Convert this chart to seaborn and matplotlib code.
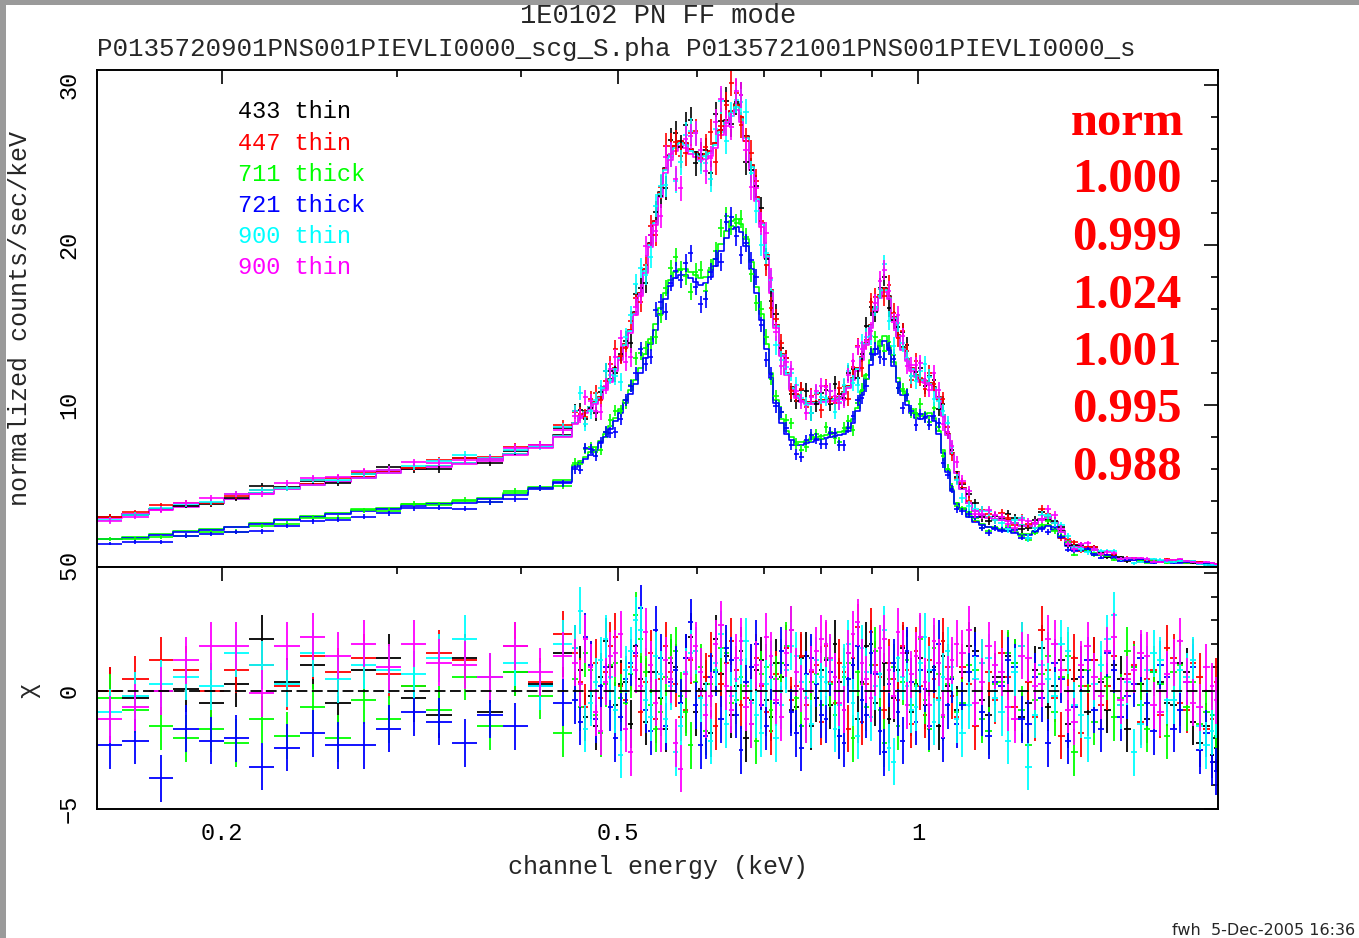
import numpy as np
import pandas as pd
import matplotlib
matplotlib.use("Agg")
import matplotlib.pyplot as plt
import seaborn as sns
from matplotlib.ticker import FixedLocator, NullFormatter, MultipleLocator
from matplotlib.patches import Rectangle

# ---------------- data ----------------
series_names = ["433 thin", "447 thin", "711 thick", "721 thick", "900 thin", "900 thin"]
series_colors = ["#000000", "#ff0000", "#00ff00", "#0000ff", "#00ffff", "#ff00ff"]
series_filter = ["thin", "thin", "thick", "thick", "thin", "thin"]
norm_values = ["1.000", "0.999", "1.024", "1.001", "0.995", "0.988"]

energy_edges = [
    0.150, 0.159, 0.169, 0.179, 0.190, 0.201, 0.213, 0.226, 0.240, 0.254,
    0.270, 0.286, 0.303, 0.321, 0.341, 0.361, 0.383, 0.406, 0.430,
    0.450, 0.4555, 0.461, 0.4665, 0.472, 0.4775, 0.483, 0.4885, 0.494, 0.500,
    0.506, 0.512, 0.518, 0.524, 0.530, 0.536, 0.542, 0.5485, 0.555, 0.5615,
    0.568, 0.5745, 0.581, 0.588, 0.595, 0.602, 0.609, 0.616, 0.623, 0.6305,
    0.638, 0.6455, 0.653, 0.6605, 0.668, 0.676, 0.684, 0.692, 0.700, 0.708,
    0.716, 0.7245, 0.733, 0.7415, 0.750, 0.759, 0.768, 0.777, 0.786, 0.795,
    0.804,
    0.8125, 0.821, 0.8295, 0.838, 0.847, 0.856, 0.865, 0.874, 0.883, 0.892,
    0.9015, 0.911, 0.9205, 0.930, 0.940, 0.950, 0.960, 0.970, 0.980, 0.990,
    1.0005, 1.011, 1.0215, 1.032, 1.043, 1.054, 1.065, 1.076, 1.0875, 1.099,
    1.116, 1.133, 1.1505, 1.168, 1.186, 1.204, 1.2225, 1.241, 1.2605, 1.280,
    1.300, 1.320, 1.3405, 1.361, 1.382, 1.403, 1.4245, 1.446, 1.4685, 1.491,
    1.514, 1.537, 1.561, 1.585, 1.6095, 1.634, 1.6595, 1.685, 1.711, 1.737,
    1.764, 1.791, 1.8185, 1.846, 1.8745, 1.903, 1.9325, 1.962, 1.981, 2.000]

model_thin = [
    3.0, 3.2, 3.5, 3.7, 3.9, 4.15, 4.5, 4.8, 5.05, 5.25, 5.5, 5.8, 6.05, 6.2, 6.4, 6.6, 6.95, 7.4, 8.1,
    8.9, 9.3, 9.6, 9.9, 10.2, 10.5, 11.1, 11.6, 12.3, 13.0,
    13.8, 14.7, 15.8, 17.0, 18.5, 20.1, 21.5, 23.3, 24.8, 25.6,
    26.2, 26.5, 26.4, 26.0, 25.8, 25.6, 25.7, 25.9, 26.4, 27.2,
    27.8, 28.4, 28.8, 28.0, 26.8, 25.0, 23.0, 21.4, 19.4, 17.2,
    15.0, 13.2, 12.0, 11.1, 10.6, 10.3, 10.2, 10.2, 10.2, 10.3,
    10.3, 10.35, 10.4, 10.5, 10.8, 11.2, 11.7, 12.3, 13.0, 13.9,
    15.0, 16.1, 16.9, 17.3, 16.8, 15.5, 14.4, 13.6, 12.9, 12.3,
    11.9, 11.6, 11.5, 11.4, 11.1, 10.5, 9.4, 8.2, 7.0, 5.8,
    4.8, 3.9, 3.4, 3.1, 3.0, 2.9, 2.85, 2.8, 2.65, 2.5,
    2.45, 2.6, 2.85, 3.0, 2.7, 2.1, 1.5, 1.2, 1.15, 1.1,
    0.95, 0.75, 0.62, 0.52, 0.44, 0.38, 0.34, 0.31, 0.29, 0.27,
    0.25, 0.24, 0.23, 0.22, 0.21, 0.2, 0.18, 0.15, 0.11, 0.07]

model_thick = [
    1.62, 1.7, 1.9, 2.05, 2.2, 2.35, 2.55, 2.8, 3.0, 3.2, 3.4, 3.5, 3.7, 3.8, 3.9, 4.1, 4.4, 4.75, 5.2,
    6.1, 6.35, 6.6, 6.9, 7.2, 7.6, 8.0, 8.5, 9.0, 9.5,
    10.1, 10.7, 11.3, 12.0, 12.9, 13.8, 14.7, 15.7, 16.6, 17.4,
    17.9, 18.1, 18.1, 17.9, 17.7, 17.5, 17.6, 18.0, 18.7, 19.6,
    20.4, 21.0, 21.1, 20.8, 19.9, 18.5, 17.0, 15.3, 13.5, 11.7,
    10.1, 8.9, 8.2, 7.8, 7.5, 7.5, 7.6, 7.7, 7.8, 7.9,
    7.95, 8.0, 8.05, 8.1, 8.2, 8.4, 8.9, 9.6, 10.6, 11.6,
    12.5, 13.2, 13.7, 14.0, 13.4, 12.4, 11.4, 10.6, 10.0, 9.5,
    9.2, 9.1, 9.2, 9.3, 9.0, 8.2, 7.0, 5.8, 4.6, 3.8,
    3.5, 3.0, 2.7, 2.5, 2.35, 2.25, 2.15, 2.1, 2.0, 1.9,
    1.9, 2.05, 2.3, 2.45, 2.2, 1.7, 1.2, 0.95, 0.9, 0.85,
    0.72, 0.6, 0.5, 0.42, 0.36, 0.32, 0.29, 0.27, 0.25, 0.23,
    0.22, 0.21, 0.2, 0.19, 0.18, 0.17, 0.15, 0.13, 0.09, 0.06]

err_thin = [
    0.18, 0.18, 0.18, 0.18, 0.19, 0.19, 0.2, 0.2, 0.2, 0.21, 0.21, 0.22, 0.22, 0.22, 0.23, 0.23, 0.24, 0.25, 0.28,
    0.42, 0.44, 0.45, 0.46, 0.47, 0.48, 0.5, 0.51, 0.53, 0.55,
    0.57, 0.59, 0.61, 0.63, 0.66, 0.69, 0.71, 0.74, 0.76, 0.78,
    0.79, 0.8, 0.8, 0.79, 0.78, 0.78, 0.78, 0.79, 0.8, 0.81,
    0.82, 0.83, 0.84, 0.82, 0.8, 0.78, 0.74, 0.71, 0.68, 0.64,
    0.6, 0.56, 0.52, 0.5, 0.48, 0.47, 0.47, 0.47, 0.47, 0.47,
    0.47, 0.47, 0.47, 0.47, 0.48, 0.49, 0.5, 0.51, 0.53, 0.55,
    0.57, 0.59, 0.6, 0.61, 0.6, 0.58, 0.56, 0.54, 0.52, 0.51,
    0.5, 0.5, 0.5, 0.49, 0.49, 0.48, 0.46, 0.43, 0.4, 0.36,
    0.33, 0.3, 0.28, 0.27, 0.26, 0.25, 0.25, 0.25, 0.24, 0.23,
    0.23, 0.24, 0.25, 0.25, 0.24, 0.21, 0.18, 0.16, 0.15, 0.15,
    0.14, 0.13, 0.12, 0.11, 0.1, 0.095, 0.09, 0.085, 0.08, 0.078,
    0.075, 0.072, 0.07, 0.068, 0.066, 0.064, 0.06, 0.055, 0.05, 0.04]

err_thick = [
    0.12, 0.12, 0.13, 0.13, 0.13, 0.14, 0.14, 0.15, 0.15, 0.16, 0.16, 0.16, 0.17, 0.17, 0.17, 0.18, 0.18, 0.19, 0.2,
    0.29, 0.3, 0.31, 0.32, 0.32, 0.33, 0.34, 0.35, 0.36, 0.37,
    0.39, 0.4, 0.42, 0.43, 0.45, 0.47, 0.48, 0.5, 0.52, 0.53,
    0.54, 0.55, 0.55, 0.54, 0.53, 0.53, 0.53, 0.54, 0.55, 0.56,
    0.57, 0.58, 0.58, 0.57, 0.55, 0.53, 0.5, 0.48, 0.45, 0.42,
    0.39, 0.37, 0.35, 0.34, 0.33, 0.32, 0.32, 0.32, 0.32, 0.33,
    0.33, 0.33, 0.33, 0.33, 0.33, 0.34, 0.35, 0.36, 0.38, 0.4,
    0.41, 0.42, 0.43, 0.44, 0.43, 0.41, 0.39, 0.37, 0.36, 0.35,
    0.35, 0.35, 0.35, 0.35, 0.34, 0.33, 0.31, 0.28, 0.26, 0.23,
    0.22, 0.2, 0.19, 0.18, 0.18, 0.17, 0.17, 0.17, 0.16, 0.16,
    0.16, 0.17, 0.18, 0.18, 0.17, 0.15, 0.13, 0.12, 0.11, 0.11,
    0.1, 0.09, 0.085, 0.08, 0.075, 0.07, 0.066, 0.063, 0.06, 0.058,
    0.056, 0.054, 0.052, 0.05, 0.048, 0.046, 0.044, 0.04, 0.035, 0.03]

chi_433 = [
    0.0, -0.3, 0.0, 0.1, -0.5, 0.3, 2.2, 0.4, 1.1, -0.5, 0.9, 1.4, -0.3, -1.0, 1.4, -0.9, 0.8, 0.3, 1.6,
    1.8, 0.9, -1.1, -0.2, -1.5, 0.6, 2.1, 1.0, -0.6, 0.3,
    0.4, -1.4, 1.9, 0.5, -1.3, 0.8, 0.8, -0.3, -1.6, 1.2,
    1.0, -0.5, 1.4, 2.3, -0.9, 0.1, 0.3, -1.8, 2.2, 0.7,
    1.5, -1.0, 0.2, 1.7, -2.0, -0.4, 0.9, 1.3, -0.4, -1.1,
    1.2, 0.6, 1.8, -0.8, -0.7, 1.4, 1.5, -1.5, -0.3, 0.9,
    1.3, -0.6, 2.0, 0.4, -0.8, 1.6, 1.1, -1.2, 0.4, 1.9,
    2.0, -0.5, 0.7, 1.2, -1.2, -0.3, 0.9, 1.8, 1.6, -0.9,
    0.3, 1.4, -0.6, 0.8, 1.0, -1.5, 1.5, 0.2, 0.5, -0.8,
    0.8, 1.9, 1.7, -0.4, -1.0, 0.6, 0.6, 1.5, 1.2, -1.1,
    -0.5, 0.9, 1.8, -0.7, 0.2, 1.3, -1.4, 0.5, 0.9, -0.9,
    1.3, 0.4, -0.8, 1.1, 0.5, -1.6, 1.0, 0.3, -1.2, 0.8,
    0.4, -0.5, -0.6, 1.2, 0.8, -1.3, -2.2, -1.5, -2.7, -2.4]
chi_447 = [
    0.0, 0.5, 1.3, 0.9, 0.0, 0.9, 1.1, 0.2, 1.5, 0.8, 1.4, 0.7, 0.2, 1.6, 1.3, 0.6, 1.9, 0.4, 2.4,
    1.6, 0.4, -0.7, 1.1, 1.2, -0.3, 0.8, 1.9, 2.3, 0.2,
    -0.4, 1.0, 1.5, -0.9, 0.4, 1.6, -1.2, 0.5, 1.9, 0.8,
    0.3, -1.1, -0.8, 1.3, 1.7, -0.2, 0.6, 1.5, -1.5, 0.3,
    1.2, 2.1, 0.9, -0.6, -0.3, 1.0, 1.4, 0.2, -0.9, -1.7,
    0.7, 1.2, 1.8, -0.4, 0.2, 1.5, -0.6, 0.8, 1.1, -1.3,
    1.9, 0.4, -0.5, 1.2, 0.8, -1.6, 1.4, 2.7, -1.3, 0.3,
    2.5, 1.1, 0.6, -0.8, 1.2, 0.5, -0.4, 1.9, 0.9, -1.4,
    1.7, 0.2, -1.0, 1.3, 0.5, -0.3, 2.1, 1.0, -0.2, -1.1,
    1.0, 0.3, -1.5, 1.2, 0.8, -0.4, 1.6, 0.6, -0.7, 1.9,
    0.4, -1.1, 2.6, 0.9, -0.3, -1.9, 0.9, 1.4, -1.8, 0.2,
    1.3, -0.6, 0.2, 1.5, -0.6, 0.7, 1.1, -1.3, 0.5, 0.9,
    -1.0, 1.8, 1.4, -0.5, -0.8, 1.2, 0.6, -1.6, -1.2, 0.4]
chi_711 = [
    -0.3, -0.8, -1.5, -2.0, -1.6, -2.2, -1.2, -1.9, -0.7, -2.0, -0.4, -1.2, 0.2, -0.8, 0.6, -1.5, 0.8, -0.2, -1.8,
    0.5, -0.7, 1.6, 0.9, -1.0, -1.8, 0.3, 1.1, 1.2, -0.3,
    -0.5, 0.7, 3.2, 2.2, 0.8, -0.6, -1.6, -0.9, 0.6, 1.4,
    1.7, -0.2, -0.9, -2.3, 0.4, 1.0, -1.7, 0.3, 0.9, 1.8,
    1.6, -0.5, -0.4, 0.6, 0.2, -1.4, -2.1, 0.7, 1.0, -0.8,
    0.5, 1.2, 1.9, 2.6, -0.3, -1.5, -1.2, 0.4, 0.7, -0.6,
    1.4, 0.3, -1.0, -1.9, 0.6, 1.2, -2.0, 0.8, 0.3, -0.7,
    1.1, 1.7, -0.8, -2.2, 0.5, 1.0, -1.5, 0.4, 1.3, -0.6,
    0.2, 2.2, -0.4, -1.6, 1.8, 0.7, -1.1, 0.3, 0.6, -0.9,
    -0.5, 1.1, 0.9, -1.2, -1.7, 0.3, 0.4, 1.6, 1.2, -0.8,
    -2.3, -0.4, 0.7, 1.5, -0.9, 0.6, 1.5, -2.6, 0.2, 0.9,
    -1.3, 0.5, 0.6, -1.1, -0.3, 1.7, 1.0, -0.6, -1.6, 0.8,
    0.3, -1.9, 0.8, 1.1, -0.7, 0.4, -1.4, -0.9, -1.0, -1.9]
chi_721 = [
    -2.3, -2.1, -3.7, -1.6, -2.1, -2.0, -3.2, -2.4, -1.8, -2.3, -2.3, -1.6, -0.9, -1.3, -2.2, -1.0, -1.5, 0.2, -0.5,
    -0.4, -1.3, 2.3, 1.1, -1.2, 0.2, 1.0, -0.7, -2.0, -1.1,
    0.5, 1.2, 1.6, 3.5, -0.8, -1.7, 2.6, 1.4, -1.5, 0.4,
    0.9, -0.5, 1.4, 2.9, -0.6, -2.3, -1.9, 0.6, 0.8, -1.2,
    1.8, 1.3, -1.0, -2.5, 0.4, 1.0, 2.0, -0.6, -1.5, 0.6,
    -0.5, 1.7, 1.1, -0.9, -1.8, -2.4, 0.7, 1.4, 0.3, -1.0,
    -1.2, 0.8, 0.6, -1.9, -2.2, 0.5, 1.1, 1.9, -0.4, -1.0,
    1.6, 0.7, -1.7, -2.6, 0.3, 1.2, -0.9, -2.1, 1.7, 0.4,
    -1.3, 0.9, 0.1, -1.5, 0.9, 2.0, -2.0, -0.6, 0.5, -1.4,
    -0.6, 0.8, 1.5, -0.9, -1.9, 0.4, 0.2, 1.3, 1.0, -1.2,
    -1.4, 0.6, -0.3, -2.2, 1.2, 0.5, -2.1, -0.7, 0.6, 1.3,
    -0.8, -1.6, 1.6, 0.9, -1.1, -0.2, 0.3, 1.4, -0.5, -1.7,
    1.1, 0.6, -1.6, -0.8, 0.4, 1.0, -2.5, -1.8, -3.0, -3.4]
chi_900a = [
    -0.9, -0.2, 0.3, 0.6, 0.2, 1.6, 1.1, 0.3, 1.6, 0.5, 1.1, 0.9, 0.7, 1.4, 2.2, 0.6, 1.2, 0.2, 2.0,
    1.8, 3.4, -1.6, -0.5, 0.4, 1.3, 2.2, 0.6, -0.8, -2.7,
    0.9, 1.7, 3.0, 2.6, -0.4, -1.1, 1.5, 0.7, -1.2, 0.2,
    -2.6, -1.5, 0.8, 1.6, 1.7, -0.3, -0.6, -2.1, 1.2, 2.4,
    -1.4, -0.2, 0.5, 1.3, 2.1, -0.5, -1.0, -1.8, 0.3, 1.1,
    -2.0, -0.6, 0.9, 1.9, 1.5, 0.4, -0.3, -1.4, 1.3, 0.6,
    0.4, 1.3, -1.6, -0.6, 1.0, 2.0, -0.5, -1.9, 1.8, 0.8,
    -1.1, 0.2, 0.7, 2.6, -2.4, -3.0, 1.4, 0.6, 0.2, -0.8,
    -0.7, 1.2, 2.3, 0.9, -1.3, -0.4, 0.6, 1.7, 1.0, -1.2,
    -1.8, -0.6, 0.5, 1.2, 1.4, -0.3, -0.9, -2.1, 0.8, 1.9,
    -3.2, -1.0, 1.1, 0.5, -0.2, 2.0, 1.7, -0.6, -1.0, -2.0,
    0.3, 1.1, 2.2, 3.2, -0.6, 0.4, -2.6, -1.4, 0.9, 1.6,
    1.3, -0.4, -0.4, 0.9, 0.6, 1.3, -1.5, -2.3, -1.7, -1.0]
chi_900b = [
    -1.2, -0.7, 0.0, 1.3, 1.9, 1.9, -0.1, 1.9, 2.3, 1.5, 2.0, 1.0, 2.0, 1.2, 1.1, 0.6, 1.9, 0.8, 1.5,
    1.2, 0.3, 2.2, 1.0, -0.9, -1.7, 0.4, 1.5, 1.6, 2.4,
    -1.6, -2.6, 0.9, 0.2, 2.5, 1.1, -0.5, -1.6, 1.3, 0.5,
    -2.2, -3.3, 0.7, 1.4, 1.9, 0.8, -1.0, -0.2, 2.0, 2.8,
    0.2, -0.8, 1.4, 2.1, -0.7, -1.4, 1.1, 0.3, 2.3, 1.5,
    -0.4, -1.1, 1.6, 2.6, 0.8, 0.1, -1.2, 0.9, 1.7, 2.2,
    2.0, 1.4, 0.6, -0.5, -0.8, 1.6, 2.4, 2.9, 1.2, 0.5,
    -0.3, 0.8, 1.8, 2.2, 0.9, -0.2, 2.5, 1.6, -0.6, 0.7,
    1.5, 2.3, 0.4, -0.6, 2.1, 1.2, -1.0, 0.5, 1.3, 2.0,
    1.6, 2.6, -0.5, 0.4, 1.9, 1.1, 0.8, -0.7, -1.2, 1.5,
    1.4, 0.2, 0.3, 2.2, 2.0, 0.9, -0.8, -1.3, 1.1, 1.9,
    0.6, -0.2, 1.7, 2.3, -0.4, 0.5, 0.9, 1.6, 1.5, -0.6,
    -0.9, 0.7, 1.2, 2.1, 0.4, -0.5, -0.7, 1.0, 0.2, -0.4]
chi_values = [chi_433, chi_447, chi_711, chi_721, chi_900a, chi_900b]

title_text = "1E0102 PN FF mode"
subtitle_text = "P0135720901PNS001PIEVLI0000_scg_S.pha P0135721001PNS001PIEVLI0000_s"
xlabel_text = "channel energy (keV)"
ylabel_text = "normalized counts/sec/keV"
rlabel_text = "\u03c7"
footer_text = "fwh  5-Dec-2005 16:36"

nbins = len(energy_edges) - 1
for arr in [model_thin, model_thick, err_thin, err_thick] + chi_values:
    if len(arr) != nbins:
        raise ValueError(f"length {len(arr)} != {nbins}")

# ---------------- style ----------------
sns.set_style("white")
MONO = ["Liberation Mono", "DejaVu Sans Mono", "DejaVu Sans"]
plt.rcParams["font.family"] = MONO
plt.rcParams["axes.linewidth"] = 1.4
plt.rcParams["axes.edgecolor"] = "black"

W, H = 1359, 938
fig = plt.figure(figsize=(W / 100, H / 100), dpi=100)
fig.patch.set_facecolor("white")

def fx(px):
    return px / W

def fy(py):
    return 1 - py / H

ax = fig.add_axes([fx(97), fy(567), fx(1218) - fx(97), fy(70) - fy(567)])
axr = fig.add_axes([fx(97), fy(809), fx(1218) - fx(97), fy(567) - fy(809)])

edges = np.array(energy_edges)
lo, hi = edges[:-1], edges[1:]
ctr = np.sqrt(lo * hi)

keys = [f"{i}:{n}" for i, n in enumerate(series_names)]
palette = dict(zip(keys, series_colors))

rows = []
models = {}
for k, filt, nv in zip(keys, series_filter, norm_values):
    base = np.array(model_thin if filt == "thin" else model_thick)
    m = float(nv) * base
    models[k] = m
    for e, v in zip(edges, np.append(m, m[-1])):
        rows.append({"E": e, "flux": v, "spec": k})
df = pd.DataFrame(rows)

ax.set_xscale("log")
axr.set_xscale("log")

sns.lineplot(data=df, x="E", y="flux", hue="spec", hue_order=keys, palette=palette,
             estimator=None, drawstyle="steps-post", linewidth=1.2, legend=False, ax=ax)

for k, filt, c, chi in zip(keys, series_filter, series_colors, chi_values):
    err = np.array(err_thin if filt == "thin" else err_thick)
    chi = np.array(chi)
    data = models[k] + chi * err
    ax.errorbar(ctr, data, xerr=[ctr - lo, hi - ctr], yerr=err, fmt="none",
                ecolor=c, elinewidth=1.2, capsize=0)
    axr.errorbar(ctr, chi, xerr=[ctr - lo, hi - ctr], yerr=1.0, fmt="none",
                 ecolor=c, elinewidth=1.3, capsize=0)

axr.axhline(0, color="black", lw=1.3, ls=(0, (6, 2.5)), zorder=10)

for a in (ax, axr):
    a.set_xlim(0.15, 2.0)
    a.xaxis.set_major_locator(FixedLocator([0.2, 0.5, 1.0]))
    a.xaxis.set_minor_locator(FixedLocator([0.3, 0.4, 0.6, 0.7, 0.8, 0.9, 2.0]))
    a.xaxis.set_minor_formatter(NullFormatter())
    a.tick_params(which="both", direction="in", top=True, right=True, width=1.2,
                  colors="black", labelsize=17)
    a.tick_params(which="major", length=10)
    a.tick_params(which="minor", length=5)
    a.set_xlabel("")
    a.set_ylabel("")
    for s in a.spines.values():
        s.set_linewidth(1.4)

ax.tick_params(axis="x", labelbottom=False)
axr.set_xticks([0.2, 0.5, 1.0], ["0.2", "0.5", "1"])
axr.tick_params(axis="x", pad=9)

ax.set_ylim(-0.12, 30.94)
ax.set_yticks([0, 10, 20, 30], ["0", "10", "20", "30"])
ax.yaxis.set_minor_locator(MultipleLocator(2))
axr.set_ylim(-5.0, 5.25)
axr.set_yticks([-5, 0, 5], ["\u22125", "0", "5"])
axr.yaxis.set_minor_locator(MultipleLocator(1))
for a in (ax, axr):
    a.tick_params(axis="y", pad=12)
    plt.setp(a.get_yticklabels(), rotation=90, va="center", ha="right")
# the main-panel "0" sits just above the residual-panel "5"
ax.get_yticklabels()[0].set_va("bottom")

# ---------------- texts ----------------
fig.text(fx(658), fy(16), title_text, ha="center", va="center", fontsize=19.5, family=MONO)
fig.text(fx(97), fy(49), subtitle_text, ha="left", va="center", fontsize=18.6, family=MONO)
fig.text(fx(658), fy(867), xlabel_text, ha="center", va="center", fontsize=18, family=MONO)
fig.text(fx(20), fy(318), ylabel_text, ha="center", va="center", rotation=90, fontsize=18, family=MONO)
fig.text(fx(28), fy(690), rlabel_text, ha="center", va="center", rotation=90, fontsize=18, family=MONO)
fig.text(fx(1355), fy(930), footer_text, ha="right", va="center", fontsize=11.5, family=["DejaVu Sans"])

for i, (n, c) in enumerate(zip(series_names, series_colors)):
    fig.text(fx(238), fy(112 + 31.2 * i), n, color=c, ha="left", va="center", fontsize=17, family=MONO)

fig.text(fx(1127), fy(135), "norm", color="#ff0000", ha="center", va="baseline",
         fontsize=35, fontweight="bold", family=["Liberation Serif", "DejaVu Serif"])
for i, nv in enumerate(norm_values):
    fig.text(fx(1127), fy(192.5 + 57.5 * i), nv, color="#ff0000", ha="center", va="baseline",
             fontsize=35, fontweight="bold", family=["Liberation Serif", "DejaVu Serif"])

# grey frame edges of the original screenshot
fig.patches.append(Rectangle((0, fy(5)), 1, 5 / H, transform=fig.transFigure,
                             facecolor="#9a9a9a", edgecolor="none", zorder=0))
fig.patches.append(Rectangle((0, 0), 6 / W, 1, transform=fig.transFigure,
                             facecolor="#9a9a9a", edgecolor="none", zorder=0))

fig.savefig("out.png", dpi=100)
